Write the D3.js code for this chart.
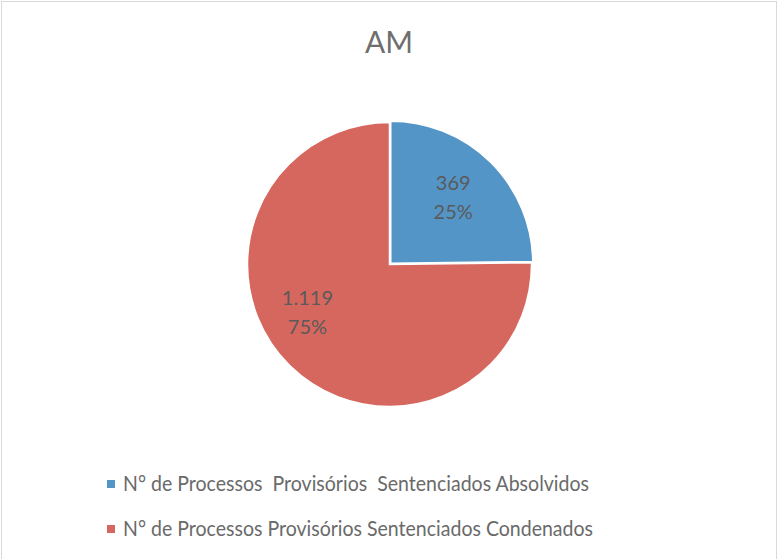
<!DOCTYPE html>
<html><head><meta charset="utf-8">
<script src="https://cdn.jsdelivr.net/npm/d3@7"></script>
<style>html,body{margin:0;padding:0;background:#fff}svg{display:block}</style>
</head><body>
<script>
const title = "AM";
const categories = ["N° de Processos  Provisórios  Sentenciados Absolvidos", "N° de Processos Provisórios Sentenciados Condenados"];
const values = [369, 1119];
const valueLabels = ["369", "1.119"];
const colors = ["#5495c7", "#d6675f"];

const W = 778, H = 559;
const svg = d3.select("body").append("svg").attr("width", W).attr("height", H);
svg.append("rect").attr("x", 1.5).attr("y", 1.5).attr("width", W - 3).attr("height", H + 5)
  .attr("fill", "#fff").attr("stroke", "#d9d9d9").attr("stroke-width", 1);

const font = "Lato, 'Open Sans', sans-serif";
svg.append("text").attr("x", 389).attr("y", 53).attr("text-anchor", "middle")
  .attr("font-family", font).attr("font-size", 30).attr("fill", "#6e6e6e")
  .attr("textLength", 48).attr("lengthAdjust", "spacingAndGlyphs").text(title);

const cx = 389.5, cy = 264.5, R = 142;
const total = d3.sum(values);
const pie = d3.pie().sort(null).value(d => d)(values);
const arc = d3.arc().innerRadius(0).outerRadius(R);
const g = svg.append("g").attr("transform", `translate(${cx},${cy})`);
const explode = [1.8, 0];
g.selectAll("path").data(pie).join("path")
  .attr("d", arc)
  .attr("transform", (d, i) => {
    const a = (d.startAngle + d.endAngle) / 2;
    return `translate(${Math.sin(a) * explode[i]},${-Math.cos(a) * explode[i]})`;
  })
  .attr("fill", (d, i) => colors[i]).attr("stroke", "#fff").attr("stroke-width", 1.5);

// label positions: radius fraction and angle shift (Excel best-fit placement)
const labelR = [0.65, 0.67];
const labelShift = [-1, 15]; // degrees
pie.forEach((d, i) => {
  const a = (d.startAngle + d.endAngle) / 2 + labelShift[i] * Math.PI / 180;
  const x = Math.sin(a) * R * labelR[i], y = -Math.cos(a) * R * labelR[i];
  const pct = Math.round(values[i] / total * 100) + "%";
  const t = g.append("text").attr("text-anchor", "middle").attr("font-family", font)
    .attr("font-size", 20).attr("fill", "#5a5a5a");
  t.append("tspan").attr("x", x).attr("y", y - 8).text(valueLabels[i]);
  t.append("tspan").attr("x", x).attr("y", y + 21).text(pct);
});

const legW = [466, 470];
const leg = svg.append("g");
categories.forEach((c, i) => {
  const y = 491 + i * 45;
  leg.append("rect").attr("x", 107).attr("y", y - 11).attr("width", 8).attr("height", 8).attr("fill", colors[i]);
  leg.append("text").attr("x", 123).attr("y", y).attr("font-family", font).attr("font-size", 21)
    .attr("fill", "#6a6a6a").attr("textLength", legW[i]).attr("lengthAdjust", "spacingAndGlyphs")
    .attr("xml:space", "preserve").style("white-space", "pre").text(c);
});
</script>
</body></html>
